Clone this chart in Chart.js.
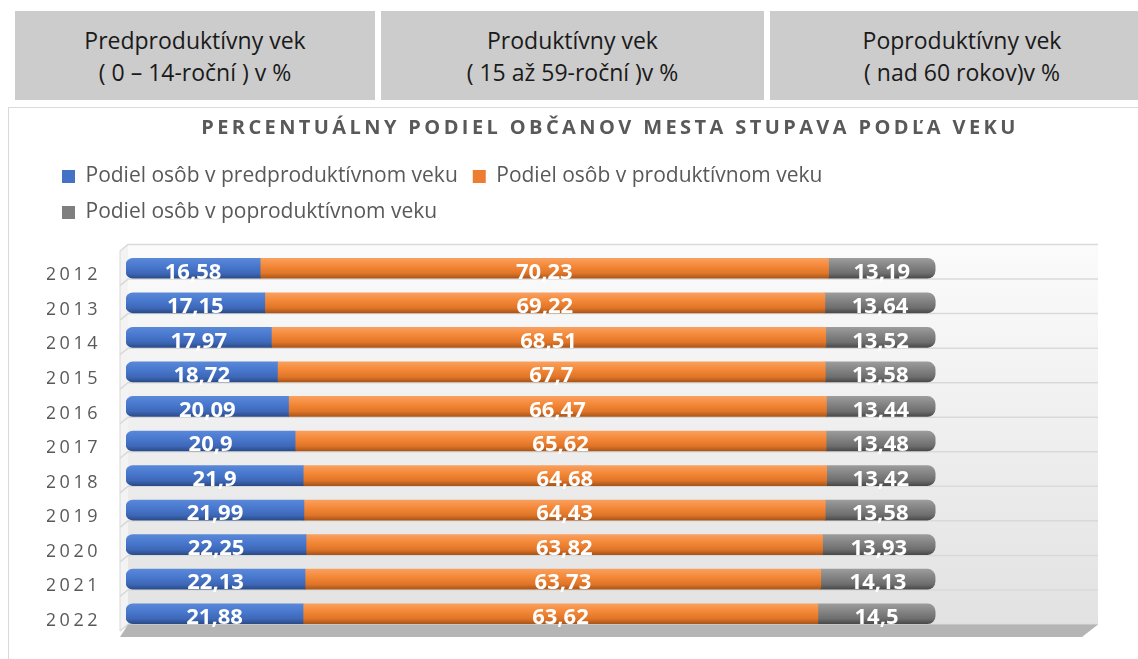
<!DOCTYPE html>
<html>
<head>
<meta charset="utf-8">
<script src="https://cdn.jsdelivr.net/npm/chart.js@4.4.1/dist/chart.umd.min.js"></script>
<style>
html, body { margin: 0; padding: 0; background: #fff; overflow: hidden; width: 1138px; height: 659px; }
body { position: relative; font-family: "Open Sans", sans-serif; }
.hdr { position: absolute; top: 11px; height: 89px; background: #cccccc; color: #1a1a1a;
       font-size: 23px; line-height: 32px; text-align: center; box-sizing: border-box; padding-top: 13px; }
#box { position: absolute; left: 8px; top: 107px; width: 1202px; height: 560px; border: 1px solid #d9d9d9; }
canvas { display: block; }
</style>
</head>
<body>
<div class="hdr" style="left:15px;width:360px">Predproduktívny vek<br>( 0 – 14-roční ) v %</div>
<div class="hdr" style="left:381px;width:383px">Produktívny vek<br>( 15 až 59-roční )v %</div>
<div class="hdr" style="left:770px;width:384px">Poproduktívny vek<br>( nad 60 rokov)v %</div>
<div id="box"><canvas id="vekChart" width="1202" height="560"></canvas></div>
<script>
// dáta
const years = ['2012', '2013', '2014', '2015', '2016', '2017', '2018', '2019', '2020', '2021', '2022'];
const preProd = [16.58, 17.15, 17.97, 18.72, 20.09, 20.9, 21.9, 21.99, 22.25, 22.13, 21.88];
const prod = [70.23, 69.22, 68.51, 67.7, 66.47, 65.62, 64.68, 64.43, 63.82, 63.73, 63.62];
const postProd = [13.19, 13.64, 13.52, 13.58, 13.44, 13.48, 13.42, 13.58, 13.93, 14.13, 14.5];
const seriesNames = ['Podiel osôb v predproduktívnom veku', 'Podiel osôb v produktívnom veku', 'Podiel osôb v poproduktívnom veku'];
const chartTitle = 'PERCENTUÁLNY PODIEL OBČANOV MESTA STUPAVA PODĽA VEKU';

const legendColors = ['#4472c4', '#ed7d31', '#7f7f7f'];
const blueStops = ['#5a88d8', '#4a7ad0', '#3e68b8', '#2b4c88'];
const orangeStops = ['#f8a060', '#f58a3a', '#e07528', '#a9561a'];
const grayStops = ['#9c9c9c', '#868686', '#6e6e6e', '#4a4a4a'];

// valec - gradient podľa riadku
function cylinder(stops) {
    return (c) => {
        const chart = c.chart;
        if (!chart.chartArea || c.type !== 'data') return stops[1];
        const y = chart.scales.y.getPixelForValue(c.dataIndex);
        const g = chart.ctx.createLinearGradient(0, y - 10, 0, y + 10);
        g.addColorStop(0, stops[0]);
        g.addColorStop(0.35, stops[1]);
        g.addColorStop(0.75, stops[2]);
        g.addColorStop(1, stops[3]);
        return g;
    };
}

const fmt = v => String(v).replace('.', ',');

const wall3d = {
    id: 'wall3d',
    beforeLayout(chart) {
        const lg = chart.legend;
        if (lg && !lg._patched) {
            const f = lg.fit;
            lg.fit = function () { f.call(this); this.height += 18; };
            lg._patched = true;
        }
    },
    beforeDraw(chart) {
        chart.ctx.letterSpacing = '0px';
    },
    beforeDatasetsDraw(chart) {
        const {ctx, chartArea: a, scales: {y}} = chart;
        const dy = 6.5, sx = 6;
        const band = (a.bottom - a.top) / years.length;
        ctx.save();
        // zadná stena
        const g = ctx.createLinearGradient(0, a.top - dy, 0, a.bottom - dy);
        g.addColorStop(0, '#fbfbfb');
        g.addColorStop(1, '#e2e2e2');
        ctx.fillStyle = g;
        ctx.fillRect(a.left + 2, a.top - dy, a.right - a.left - 1, a.bottom - a.top);
        // bočná stena
        ctx.fillStyle = '#f3f3f3';
        ctx.beginPath();
        ctx.moveTo(a.left - sx, a.top);
        ctx.lineTo(a.left + 2, a.top - dy);
        ctx.lineTo(a.left + 2, a.bottom - dy);
        ctx.lineTo(a.left - sx, a.bottom);
        ctx.closePath();
        ctx.fill();
        ctx.strokeStyle = '#d9d9d9';
        ctx.lineWidth = 1;
        ctx.beginPath();
        ctx.moveTo(a.left - sx, a.top);
        ctx.lineTo(a.left - sx, a.bottom);
        ctx.stroke();
        // mriežka
        ctx.lineWidth = 1.5;
        for (let i = 0; i <= years.length; i++) {
            const yb = i < years.length ? y.getPixelForValue(i) - band / 2 : y.getPixelForValue(i - 1) + band / 2;
            ctx.beginPath();
            ctx.moveTo(a.left - sx, yb);
            ctx.lineTo(a.left + 2, yb - dy);
            ctx.lineTo(a.right + 1, yb - dy);
            ctx.stroke();
        }
        // podlaha
        ctx.fillStyle = '#b5b5b5';
        ctx.beginPath();
        ctx.moveTo(a.left + 2, a.bottom - dy);
        ctx.lineTo(a.right + 1, a.bottom - dy);
        ctx.lineTo(a.right - 15, a.bottom + 6);
        ctx.lineTo(a.left - sx, a.bottom + 6);
        ctx.closePath();
        ctx.fill();
        ctx.restore();
    },
    afterDatasetsDraw(chart) {
        const ctx = chart.ctx;
        ctx.save();
        ctx.fillStyle = '#ffffff';
        ctx.font = 'bold 22px "Open Sans"';
        ctx.textAlign = 'center';
        ctx.textBaseline = 'middle';
        chart.data.datasets.forEach((ds, di) => {
            chart.getDatasetMeta(di).data.forEach((bar, i) => {
                const p = bar.getProps(['x', 'y', 'base'], true);
                ctx.fillText(fmt(ds.data[i]), (p.x + p.base) / 2, p.y + 4);
            });
        });
        ctx.restore();
        // roky s riedkym písmom (popisy osi y sa kreslia po datasetoch)
        ctx.letterSpacing = '3.5px';
    },
    afterDraw(chart) {
        const ctx = chart.ctx;
        ctx.letterSpacing = '0px';
        ctx.save();
        ctx.letterSpacing = '3.4px';
        ctx.fillStyle = '#595959';
        ctx.font = 'bold 20px "Open Sans"';
        ctx.textAlign = 'center';
        ctx.textBaseline = 'middle';
        ctx.fillText(chartTitle, chart.width / 2, 20);
        ctx.restore();
    }
};

const chart = new Chart(document.getElementById('vekChart'), {
    type: 'bar',
    data: {
        labels: years,
        datasets: [
            { label: seriesNames[0], data: preProd, backgroundColor: cylinder(blueStops), borderSkipped: false,
              borderRadius: { topLeft: 7, bottomLeft: 7, topRight: 0, bottomRight: 0 }, barThickness: 20 },
            { label: seriesNames[1], data: prod, backgroundColor: cylinder(orangeStops), barThickness: 20 },
            { label: seriesNames[2], data: postProd, backgroundColor: cylinder(grayStops), borderSkipped: false,
              borderRadius: { topLeft: 0, bottomLeft: 0, topRight: 8, bottomRight: 8 }, barThickness: 20 }
        ]
    },
    options: {
        indexAxis: 'y',
        responsive: false,
        animation: false,
        layout: { padding: { top: 43, left: 38, right: 114, bottom: 37 } },
        scales: {
            x: { stacked: true, min: 0, max: 120, display: false },
            y: {
                stacked: true,
                grid: { display: false, drawTicks: false },
                border: { display: false },
                ticks: { z: 1, color: '#595959', font: { family: 'Open Sans', size: 18 }, padding: 25, labelOffset: 7 },
                afterFit: (s) => { s.width = 79; }
            }
        },
        plugins: {
            title: { display: false },
            tooltip: { enabled: false },
            legend: {
                position: 'top',
                align: 'start',
                labels: {
                    boxWidth: 13,
                    boxHeight: 13,
                    padding: 15,
                    color: '#595959',
                    font: { family: 'Open Sans', size: 21 },
                    generateLabels: (c) => Chart.defaults.plugins.legend.labels.generateLabels(c).map((it, i) =>
                        Object.assign(it, { fillStyle: legendColors[i], strokeStyle: legendColors[i], lineWidth: 0 }))
                }
            }
        }
    },
    plugins: [wall3d]
});
</script>
</body>
</html>
